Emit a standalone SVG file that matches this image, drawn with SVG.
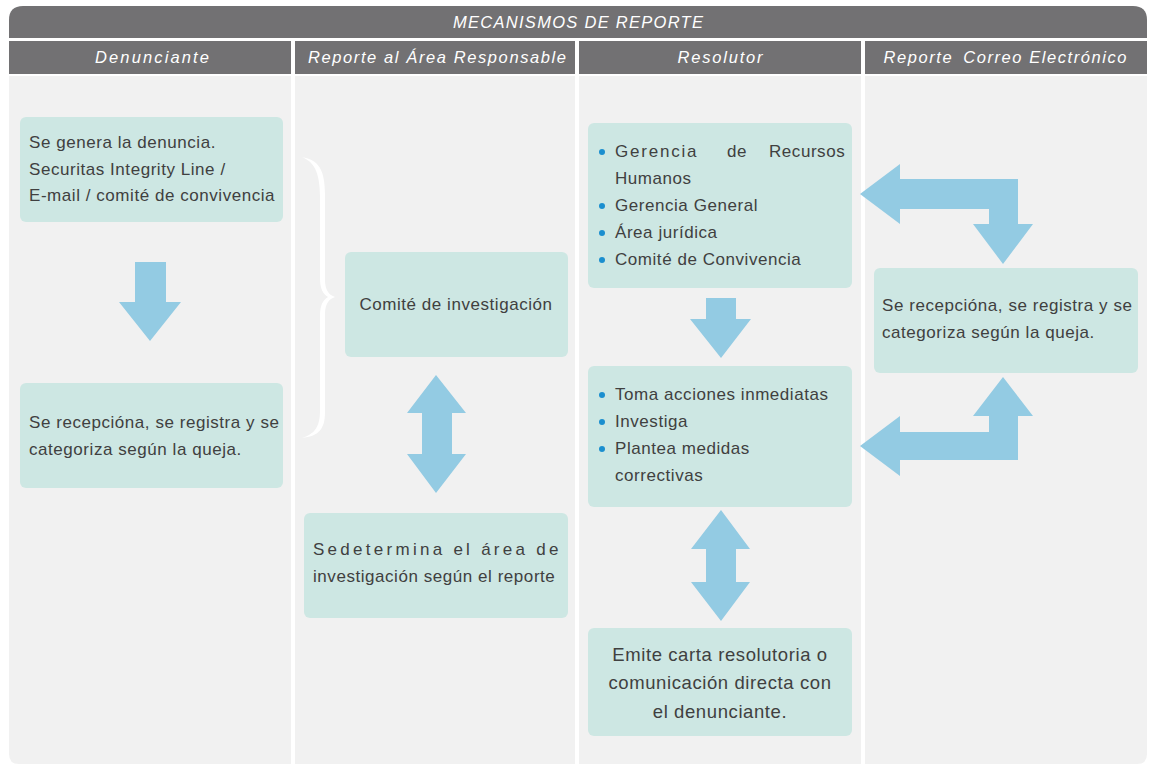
<svg xmlns="http://www.w3.org/2000/svg" width="1155" height="764" viewBox="0 0 1155 764">
<style>
.hdr{fill:#727173}
.body{fill:#f1f1f1}
.ht{font-family:"Liberation Sans",Arial,sans-serif;font-style:italic;font-size:16.5px;fill:#ffffff}
.box{fill:#cde7e3}
.t{font-family:"Liberation Sans",Arial,sans-serif;font-size:17px;letter-spacing:0.55px;fill:#404040}
.t2{font-size:18.5px;letter-spacing:0.6px}
.sp{letter-spacing:1.8px}
.arr{fill:#93cbe3}
.bul{fill:#1b8fcf}
</style>
<rect width="1155" height="764" fill="#ffffff"/>
<g id="header">
<path class="hdr" d="M9,38 L9,20 Q9,6 23,6 L1133,6 Q1147,6 1147,20 L1147,38 Z"/>
<text class="ht" x="578" y="28" text-anchor="middle" textLength="250" lengthAdjust="spacing">MECANISMOS DE REPORTE</text>
<rect class="hdr" x="9" y="41" width="282" height="33"/>
<rect class="hdr" x="295" y="41" width="280" height="33"/>
<rect class="hdr" x="579" y="41" width="282" height="33"/>
<rect class="hdr" x="865" y="41" width="282" height="33"/>
<text class="ht" x="152" y="63" text-anchor="middle" textLength="114" lengthAdjust="spacing">Denunciante</text>
<text class="ht" x="437" y="63" text-anchor="middle" textLength="258" lengthAdjust="spacing">Reporte al Área Responsable</text>
<text class="ht" x="720" y="63" text-anchor="middle" textLength="85" lengthAdjust="spacing">Resolutor</text>
<text class="ht" x="1005" y="63" text-anchor="middle" textLength="243" lengthAdjust="spacing">Reporte <tspan dx="4">Correo Electrónico</tspan></text>
</g>
<g id="columns">
<path class="body" d="M9,76 L291,76 L291,764 L19,764 Q9,764 9,754 Z"/>
<rect class="body" x="295" y="76" width="280" height="688"/>
<rect class="body" x="579" y="76" width="282" height="688"/>
<path class="body" d="M865,76 L1147,76 L1147,754 Q1147,764 1137,764 L865,764 Z"/>
</g>
<g id="connectors">
<path class="arr" d="M135,262 L166,262 L166,302 L181,302 L150,341 L119,302 L135,302 Z"/>
<path class="arr" d="M436,375 L466,413 L452,413 L452,454 L466,454 L436,493 L407,454 L422,454 L422,413 L407,413 Z"/>
<path class="arr" d="M706,298 L736,298 L736,319 L751,319 L721,358 L690,319 L706,319 Z"/>
<path class="arr" d="M721,510 L750,549 L736,549 L736,582 L750,582 L721,621 L691,582 L706,582 L706,549 L691,549 Z"/>
<path class="arr" d="M860,194 L900,164 L900,179 L1018,179 L1018,224 L1033,224 L1003,264 L973,224 L989,224 L989,209 L900,209 L900,224 Z"/>
<path class="arr" d="M860,446 L900,416 L900,432 L989,432 L989,416 L973,416 L1003,377 L1033,416 L1018,416 L1018,460 L900,460 L900,476 Z"/>
<path id="brace" fill="#ffffff" d="M302,157 C319,160 325,170 325,195 L325,280 C325,290 329,295 335,297 C329,299 325,304 325,314 L325,412 C325,430 318,436 302,438 C314,434 320,428 320,410 L320,316 C320,305 323,300 328,297 C323,294 320,289 320,278 L320,197 C320,172 314,162 302,157 Z"/>
</g>
<g id="n1">
<rect class="box" x="20" y="117" width="263" height="105" rx="6"/>
<text class="t" x="29" y="148">Se genera la denuncia.</text>
<text class="t" x="29" y="175">Securitas Integrity Line /</text>
<text class="t" x="29" y="201">E-mail / comité de convivencia</text>
</g>
<g id="n2">
<rect class="box" x="20" y="383" width="263" height="105" rx="6"/>
<text class="t" x="29" y="428">Se recepcióna, se registra y se</text>
<text class="t" x="29" y="455">categoriza según la queja.</text>
</g>
<g id="n3">
<rect class="box" x="345" y="252" width="223" height="105" rx="6"/>
<text class="t" x="456" y="310" text-anchor="middle">Comité de investigación</text>
</g>
<g id="n4">
<rect class="box" x="304" y="513" width="264" height="105" rx="6"/>
<text class="t" x="313" y="555" textLength="246" lengthAdjust="spacing">Sedetermina el área de</text>
<text class="t" x="313" y="582">investigación según el reporte</text>
</g>
<g id="n5">
<rect class="box" x="588" y="123" width="264" height="165" rx="6"/>
<circle class="bul" cx="602" cy="152" r="3"/>
<circle class="bul" cx="602" cy="206" r="3"/>
<circle class="bul" cx="602" cy="233" r="3"/>
<circle class="bul" cx="602" cy="260" r="3"/>
<text class="t" y="157"><tspan class="sp" x="615">Gerencia</tspan> <tspan x="727">de</tspan> <tspan x="769">Recursos</tspan></text>
<text class="t" x="615" y="184">Humanos</text>
<text class="t" x="615" y="211">Gerencia General</text>
<text class="t" x="615" y="238">Área jurídica</text>
<text class="t" x="615" y="265">Comité de Convivencia</text>
</g>
<g id="n6">
<rect class="box" x="588" y="366" width="264" height="141" rx="6"/>
<circle class="bul" cx="602" cy="395" r="3"/>
<circle class="bul" cx="602" cy="422" r="3"/>
<circle class="bul" cx="602" cy="449" r="3"/>
<text class="t" x="615" y="400">Toma acciones inmediatas</text>
<text class="t" x="615" y="427">Investiga</text>
<text class="t" x="615" y="454">Plantea medidas</text>
<text class="t" x="615" y="481">correctivas</text>
</g>
<g id="n7">
<rect class="box" x="588" y="628" width="264" height="108" rx="6"/>
<text class="t t2" x="720" y="661" text-anchor="middle">Emite carta resolutoria o</text>
<text class="t t2" x="720" y="689" text-anchor="middle">comunicación directa con</text>
<text class="t t2" x="720" y="718" text-anchor="middle">el denunciante.</text>
</g>
<g id="n8">
<rect class="box" x="874" y="268" width="264" height="105" rx="6"/>
<text class="t" x="882" y="311">Se recepcióna, se registra y se</text>
<text class="t" x="882" y="338">categoriza según la queja.</text>
</g>
</svg>
